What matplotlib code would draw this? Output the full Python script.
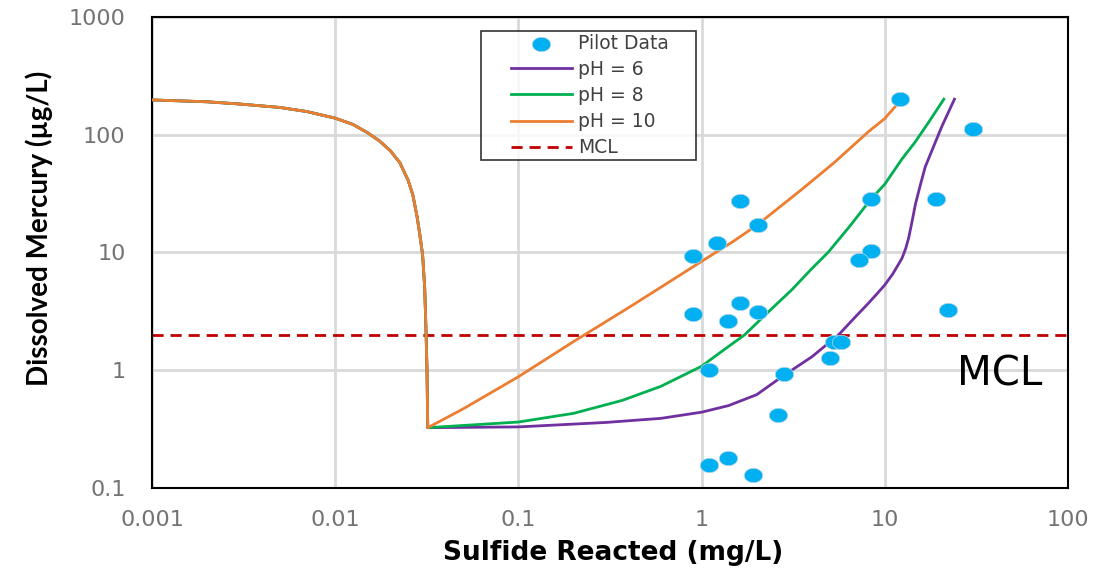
import numpy as np
import matplotlib.pyplot as plt
from matplotlib.path import Path
from matplotlib.lines import Line2D
from matplotlib.collections import PathCollection
from matplotlib.legend_handler import HandlerLine2D, HandlerPathCollection
from matplotlib.ticker import FixedLocator, FuncFormatter, NullLocator

# shared precipitation part of the model curves
drop_x = [0.001, 0.002, 0.003, 0.005, 0.007, 0.01, 0.0125, 0.015, 0.0175, 0.02,
          0.0225, 0.025, 0.0265, 0.028, 0.029, 0.030, 0.0308, 0.0313, 0.0317, 0.032]
drop_y = [197, 190, 182, 170, 157, 138, 122, 104, 88, 73,
          58, 41, 31, 20, 14, 9.5, 5, 2.2, 1.0, 0.325]

ph6_x = [0.1, 0.3, 0.6, 1.0, 1.4, 2.0, 2.8, 4.0, 5.6, 7.0, 8.0, 9.0, 10, 11.0, 11.8,
         12.4, 13.0, 13.5, 14.1, 14.7, 15.6, 16.6, 18.5, 20.5, 24]
ph6_y = [0.33, 0.36, 0.39, 0.44, 0.50, 0.62, 0.9, 1.3, 2.0, 2.9, 3.6, 4.4, 5.3, 6.5, 7.8,
         8.9, 10.8, 13.3, 18.5, 25.8, 37, 53, 80, 118, 200]

ph8_x = [0.1, 0.2, 0.37, 0.6, 1.0, 1.3, 1.72, 2.3, 3.1, 4.0, 4.9, 6.5, 8.3, 10, 12.4, 14.6, 17.5, 21]
ph8_y = [0.363, 0.43, 0.555, 0.73, 1.08, 1.46, 2.0, 3.1, 4.8, 7.3, 10, 17, 27.7, 38, 62, 86, 130, 200]

ph10_x = [0.05, 0.1, 0.2, 0.4, 0.7, 1.0, 1.5, 2.0, 3.5, 5.3, 8.2, 10, 12]
ph10_y = [0.47, 0.88, 1.75, 3.4, 5.9, 8.4, 12.5, 17, 34, 58, 107, 137, 190]

pilot_x = [1.61, 2.02, 1.21, 0.90, 8.38, 19.0, 8.38, 7.24, 1.61, 0.90, 1.40, 2.02,
           22.0, 5.31, 5.75, 5.02, 1.10, 2.82, 2.60, 1.10, 1.40, 1.90, 12.1, 30.1]
pilot_y = [27.2, 17.0, 12.1, 9.3, 28.3, 28.3, 10.2, 8.7, 3.7, 3.0, 2.63, 3.1,
           3.25, 1.72, 1.72, 1.28, 1.0, 0.92, 0.42, 0.158, 0.178, 0.128, 201, 112]

mcl = 2.0

x_ticks = [0.001, 0.01, 0.1, 1, 10, 100]
y_ticks = [0.1, 1, 10, 100, 1000]

fig = plt.figure(figsize=(11.07, 5.69), dpi=100)
ax = fig.add_axes([0.1373, 0.1424, 0.8275, 0.828])

# slightly flattened dot, like the stretched screenshot
t = np.linspace(0, 2 * np.pi, 60)
dot = Path(np.column_stack([np.cos(t), 0.78 * np.sin(t)]), closed=True)

ax.axhline(mcl, color='#C00000', lw=2.0, ls=(0, (4, 2.5)), zorder=2, label='MCL')
ax.plot(drop_x + ph6_x, drop_y + ph6_y, color='#7030A0', lw=2.0, zorder=3, label='pH = 6')
ax.plot(drop_x + ph8_x, drop_y + ph8_y, color='#00B050', lw=2.0, zorder=3, label='pH = 8')
ax.plot(drop_x + ph10_x, drop_y + ph10_y, color='#ED7D31', lw=2.0, zorder=4, label='pH = 10')
ax.scatter(pilot_x, pilot_y, marker=dot, s=175, color='#00B0F0', edgecolor='#B8D8E8',
           linewidth=0.5, zorder=5, label='Pilot Data\u00a0\u00a0\u00a0\u00a0')

ax.set_xscale('log')
ax.set_yscale('log')
ax.set_xlim(0.001, 100)
ax.set_ylim(0.1, 1000)
ax.xaxis.set_major_locator(FixedLocator(x_ticks))
ax.yaxis.set_major_locator(FixedLocator(y_ticks))
ax.xaxis.set_minor_locator(NullLocator())
ax.yaxis.set_minor_locator(NullLocator())
fmt = FuncFormatter(lambda v, _: f'{v:g}')
ax.xaxis.set_major_formatter(fmt)
ax.yaxis.set_major_formatter(fmt)
ax.tick_params(length=0, labelsize=16, labelcolor='#737373')
ax.tick_params(axis='x', pad=16)
ax.tick_params(axis='y', pad=19)
ax.grid(True, color='#D9D9D9', lw=2.0, zorder=0)
ax.set_axisbelow(True)
for s in ax.spines.values():
    s.set_color('black')
    s.set_linewidth(1.5)

ax.set_xlabel('Sulfide Reacted (mg/L)', fontsize=19, fontweight='bold', family='DejaVu Sans')
ax.xaxis.set_label_coords(0.503, -0.11)
ax.set_ylabel('Dissolved Mercury (µg/L)', fontsize=20, fontweight='bold',
              family=['Liberation Sans Narrow', 'Lato', 'DejaVu Sans'])
ax.yaxis.set_label_coords(-0.108, 0.55)

ax.text(42.4, 0.92, 'MCL', fontsize=29, family='DejaVu Sans', color='black',
        ha='center', va='center')

h, l = ax.get_legend_handles_labels()
order = [4, 1, 2, 3, 0]
hmap = {Line2D: HandlerLine2D(xpad=1.45), PathCollection: HandlerPathCollection(xpad=1.45)}
leg = ax.legend([h[i] for i in order], [l[i] for i in order], loc='upper left',
                bbox_to_anchor=(0.359, 0.97), frameon=True, fancybox=False,
                edgecolor='black', labelspacing=0.38, handlelength=4.7,
                handletextpad=0.35, borderpad=0.15, borderaxespad=0, handler_map=hmap,
                prop={'family': 'DejaVu Sans', 'size': 13.5})
leg.get_frame().set_linewidth(1.2)
for txt in leg.get_texts():
    txt.set_color('#404040')

fig.savefig('out.png', dpi=100)
